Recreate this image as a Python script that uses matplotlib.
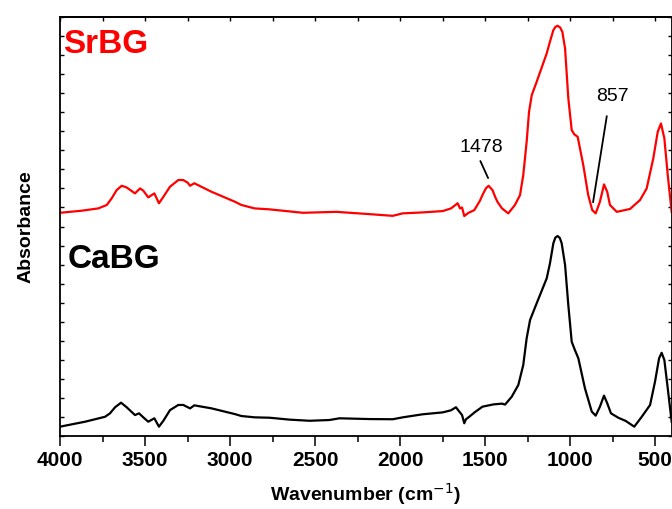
#!/usr/bin/env python3
"""FTIR spectra of SrBG and CaBG glasses"""
import matplotlib
matplotlib.use('Agg')
import matplotlib.pyplot as plt
from matplotlib.ticker import MultipleLocator

plt.rcParams['font.family'] = ['Liberation Sans', 'DejaVu Sans']

# CaBG spectrum (wavenumber, absorbance)
ca_wn = [4000, 3853, 3735, 3706, 3676, 3641, 3608, 3559, 3535, 3510, 3481, 3445,
         3418, 3392, 3353, 3304, 3275, 3235, 3210, 3108, 2971, 2933, 2855, 2767,
         2650, 2532, 2415, 2356, 2180, 2043, 1984, 1867, 1749, 1700, 1671, 1651,
         1635, 1622, 1612, 1597, 1560, 1515, 1450, 1400, 1382, 1343, 1304, 1275,
         1255, 1235, 1196, 1137, 1118, 1098, 1086, 1073, 1060, 1049, 1029, 1010,
         990, 971, 951, 912, 872, 849, 824, 800, 781, 759, 716, 672,
         622, 578, 529, 500, 476, 461, 445, 425, 402]
ca_abs = [0.049, 0.075, 0.101, 0.119, 0.151, 0.175, 0.151, 0.110, 0.119, 0.098, 0.075, 0.093,
          0.049, 0.080, 0.136, 0.163, 0.163, 0.145, 0.161, 0.145, 0.115, 0.105, 0.098, 0.096,
          0.086, 0.080, 0.084, 0.093, 0.089, 0.088, 0.098, 0.114, 0.124, 0.135, 0.151, 0.128,
          0.110, 0.067, 0.088, 0.098, 0.125, 0.154, 0.166, 0.170, 0.165, 0.206, 0.268, 0.373,
          0.513, 0.609, 0.697, 0.828, 0.906, 1.012, 1.042, 1.050, 1.040, 1.012, 0.898, 0.688,
          0.495, 0.451, 0.408, 0.250, 0.128, 0.107, 0.154, 0.212, 0.172, 0.119, 0.096, 0.079,
          0.049, 0.101, 0.163, 0.285, 0.408, 0.437, 0.399, 0.250, 0.075]

# SrBG spectrum (offset above CaBG)
sr_wn = [4000, 3872, 3775, 3725, 3696, 3667, 3637, 3608, 3559, 3529, 3510, 3481,
         3445, 3418, 3392, 3353, 3304, 3275, 3249, 3235, 3210, 3108, 2971, 2933,
         2855, 2767, 2571, 2375, 2180, 2043, 1984, 1867, 1749, 1700, 1661, 1647,
         1635, 1622, 1597, 1563, 1530, 1515, 1495, 1479, 1456, 1440, 1427, 1400,
         1363, 1324, 1294, 1275, 1255, 1241, 1225, 1196, 1137, 1118, 1098, 1086,
         1073, 1058, 1045, 1029, 1010, 990, 975, 955, 922, 893, 869, 849,
         824, 800, 781, 765, 725, 647, 588, 549, 510, 484, 465, 445,
         425, 402]
sr_abs = [1.172, 1.183, 1.195, 1.213, 1.248, 1.291, 1.314, 1.305, 1.274, 1.300, 1.288, 1.253,
          1.274, 1.222, 1.256, 1.309, 1.344, 1.344, 1.330, 1.314, 1.327, 1.282, 1.230, 1.213,
          1.195, 1.190, 1.172, 1.177, 1.165, 1.156, 1.169, 1.174, 1.181, 1.195, 1.222, 1.195,
          1.200, 1.155, 1.172, 1.186, 1.235, 1.265, 1.300, 1.314, 1.291, 1.255, 1.230, 1.195,
          1.169, 1.213, 1.265, 1.370, 1.545, 1.702, 1.790, 1.860, 2.009, 2.070, 2.131, 2.148,
          2.154, 2.145, 2.122, 2.035, 1.773, 1.606, 1.584, 1.571, 1.423, 1.265, 1.186, 1.169,
          1.230, 1.321, 1.282, 1.213, 1.177, 1.192, 1.239, 1.300, 1.458, 1.597, 1.641, 1.563,
          1.370, 1.177]

peak_labels = ['1478', '857']


def main():
	fig = plt.figure(figsize=(6.72, 5.09), dpi=100)
	ax = fig.add_axes([0.0893, 0.1434, 0.9102, 0.8232])

	ax.plot(ca_wn, ca_abs, color='black', lw=1.6, solid_joinstyle='round')
	ax.plot(sr_wn, sr_abs, color='red', lw=1.6, solid_joinstyle='round')

	ax.set_xlim(4000, 402)
	ax.set_ylim(0, 2.2)

	ax.xaxis.set_major_locator(MultipleLocator(500))
	ax.xaxis.set_minor_locator(MultipleLocator(250))
	ax.tick_params(axis='x', which='major', direction='out', length=7, width=1.1,
	               labelsize=15, pad=4)
	ax.tick_params(axis='x', which='minor', direction='out', length=4, width=1.1)
	for lab in ax.get_xticklabels():
		lab.set_fontweight('bold')

	ax.yaxis.set_major_locator(MultipleLocator(0.1))
	ax.tick_params(axis='y', which='both', left=True, right=True, direction='in',
	               length=3, width=1.0, labelleft=False)

	top = ax.secondary_xaxis('top')
	top.xaxis.set_major_locator(MultipleLocator(250))
	top.tick_params(axis='x', direction='in', length=3, width=1.0, labeltop=False)
	top.spines['top'].set_linewidth(1.3)

	for s in ax.spines.values():
		s.set_linewidth(1.3)

	ax.set_xlabel('Wavenumber (cm$^{-1}$)', fontsize=14, fontweight='bold', labelpad=8)
	ax.set_ylabel('Absorbance', fontsize=14, fontweight='bold', labelpad=18)

	ax.text(0.005, 0.914, 'SrBG', color='red', fontsize=24, fontweight='bold',
	        transform=ax.transAxes, va='baseline', ha='left')
	ax.text(0.012, 0.401, 'CaBG', color='black', fontsize=24, fontweight='bold',
	        transform=ax.transAxes, va='baseline', ha='left')

	# peak annotations with leader lines
	ax.annotate('', xy=(1475, 1.341), xytext=(1534, 1.457),
	            arrowprops=dict(arrowstyle='-', color='black', lw=1.3))
	ax.text(1523, 1.517, peak_labels[0], fontsize=14, ha='center', va='center')
	ax.annotate('', xy=(867, 1.213), xytext=(781, 1.694),
	            arrowprops=dict(arrowstyle='-', color='black', lw=1.3))
	ax.text(753, 1.785, peak_labels[1], fontsize=14, ha='center', va='center')

	fig.savefig('out.png', dpi=100)


if __name__ == '__main__':
	main()
